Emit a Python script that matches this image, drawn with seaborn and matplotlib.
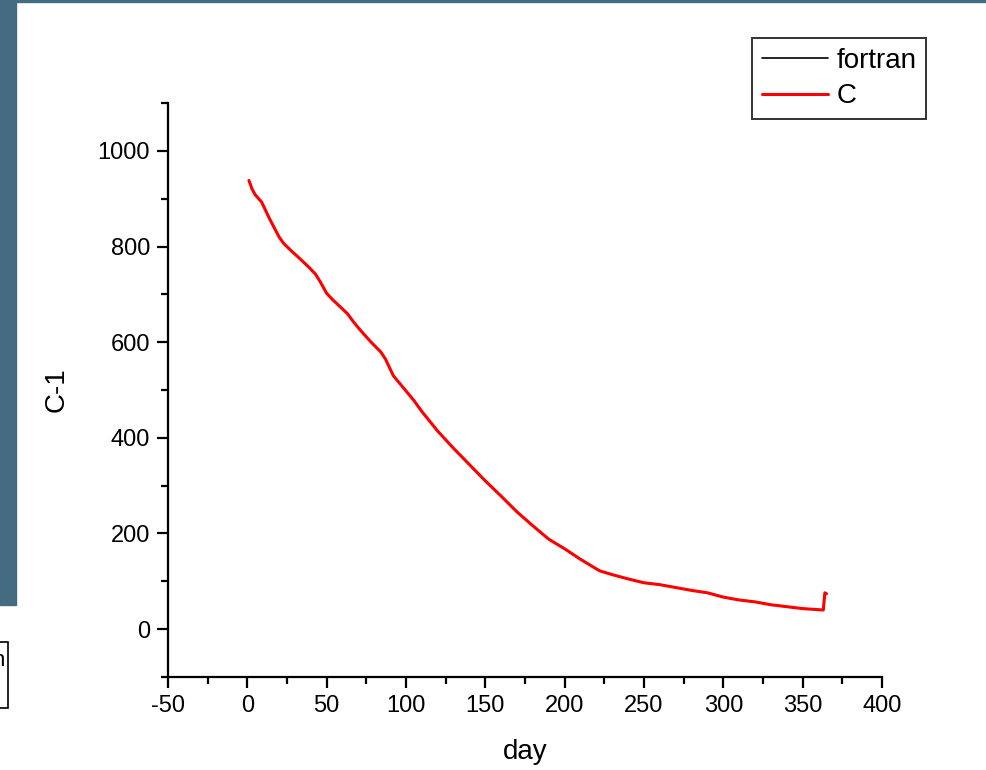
import numpy as np
import pandas as pd
import matplotlib
matplotlib.use("Agg")
import matplotlib.pyplot as plt
import seaborn as sns
from matplotlib.patches import Rectangle
from matplotlib.ticker import MultipleLocator

# values
days = [1, 3, 5, 9, 14, 20, 23, 28, 32, 39, 43, 46, 50, 54, 63, 67, 71, 78, 84, 87,
        92, 100, 105, 110, 120, 130, 140, 150, 160, 170, 180, 190, 200, 210, 222,
        230, 240, 250, 260, 270, 280, 290, 300, 310, 320, 330, 340, 350, 363, 364, 365]
c_vals = [938, 920, 908, 893, 858, 820, 806, 790, 778, 756, 742, 726, 702, 688, 660,
          642, 626, 600, 580, 565, 530, 498, 478, 455, 414, 378, 344, 310, 278, 245,
          216, 188, 168, 146, 122, 114, 105, 97, 93, 87, 81, 76, 67, 61, 57, 51, 47,
          43, 40, 76, 74]
fortran_vals = c_vals  # identical run, hidden under the C curve

df_f = pd.DataFrame({"day": days, "C-1": fortran_vals})
df_c = pd.DataFrame({"day": days, "C-1": c_vals})

sns.set_style("ticks")
plt.rcParams["font.family"] = ["Liberation Sans", "DejaVu Sans"]
plt.rcParams["axes.unicode_minus"] = False
plt.rcParams["text.color"] = "black"
plt.rcParams["axes.labelcolor"] = "black"
plt.rcParams["xtick.color"] = "black"
plt.rcParams["ytick.color"] = "black"
plt.rcParams["axes.edgecolor"] = "black"

fig = plt.figure(figsize=(9.86, 7.7), dpi=100)
ax = fig.add_axes([0.1704, 0.1208, 0.7241, 0.7454])

# slide background bits
teal = "#436c80"
fig.patches.append(Rectangle((0, 1 - 605 / 770), 16 / 986, 605 / 770,
                             transform=fig.transFigure, color=teal, zorder=0))
fig.patches.append(Rectangle((0, 1 - 2 / 770), 1, 2 / 770,
                             transform=fig.transFigure, color=teal, zorder=0))
fig.patches.append(Rectangle((-0.01, 1 - 708 / 770), 0.0185, 66 / 770,
                             transform=fig.transFigure, facecolor="white",
                             edgecolor="black", linewidth=1.2, zorder=1))
fig.text(0.005, 1 - 660 / 770, "n", fontsize=16, ha="right", va="center")

sns.lineplot(data=df_f, x="day", y="C-1", ax=ax, color="black", linewidth=1.2,
             label="fortran", legend=False)
sns.lineplot(data=df_c, x="day", y="C-1", ax=ax, color="#ff0000", linewidth=2.2,
             label="C", legend=False)

ax.set_xlim(-50, 400)
ax.set_ylim(-100, 1100)
ax.xaxis.set_major_locator(MultipleLocator(50))
ax.xaxis.set_minor_locator(MultipleLocator(25))
ax.yaxis.set_major_locator(MultipleLocator(200))
ax.yaxis.set_minor_locator(MultipleLocator(100))
ax.tick_params(which="major", direction="out", length=8, width=1.6, labelsize=17, pad=5)
ax.tick_params(which="minor", direction="out", length=5, width=1.6)
sns.despine(ax=ax)
for s in ["left", "bottom"]:
    ax.spines[s].set_linewidth(1.6)

ax.set_xlabel("day", fontsize=20, labelpad=16)
ax.set_ylabel("C-1", fontsize=20, labelpad=20)

handles, labels = ax.get_legend_handles_labels()
leg = fig.legend(handles, labels, loc="upper right",
                 bbox_to_anchor=(926 / 986, 1 - 38 / 770), fontsize=20,
                 frameon=True, fancybox=False, edgecolor="black",
                 handlelength=2.4, handletextpad=0.28, borderpad=0.35,
                 labelspacing=0.35, borderaxespad=0)
leg.get_frame().set_linewidth(1.4)

fig.savefig("out.png", dpi=100)
